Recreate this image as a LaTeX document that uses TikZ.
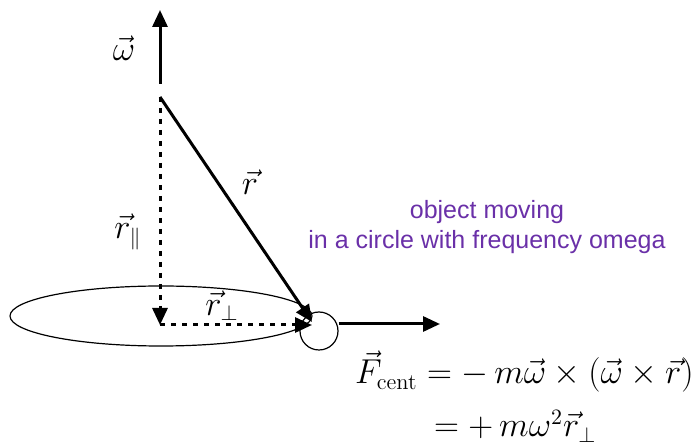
\documentclass[tikz,border=0pt]{standalone}
\usepackage{amsmath,amssymb}
\usepackage{fontspec}
\newfontfamily\labelfont{Liberation Sans}
\usetikzlibrary{arrows.meta}
\definecolor{notepurple}{RGB}{106,48,168}

\begin{document}
\begin{tikzpicture}[x=0.5pt,y=-0.5pt,
    vec/.style={line width=1.5pt,-{Triangle[length=8.5pt,width=7.5pt]}},
    dotvec/.style={vec,dash pattern=on 2.5pt off 3pt},
    mathlbl/.style={font=\fontsize{16}{19}\selectfont},
    note/.style={text=notepurple,align=center,font=\labelfont\fontsize{12.5}{15}\selectfont}]
        \useasboundingbox (0,0) rectangle (698,443);
        % axis and position vector
        \coordinate (wbase) at (160,84);
        \coordinate (wtip) at (160,10);
        \coordinate (pivot) at (160,97);
        \coordinate (centre) at (160,325);
        \coordinate (mass) at (312,322);
        \draw [vec] (wbase) -- (wtip);
        \node [mathlbl] (wlbl) at (124,48) {$\vec{\omega}$};
        \draw [vec] (pivot) -- (mass);
        \node [mathlbl] (rlbl) at (250,182) {$\vec{r}$};
        \draw [dotvec] (pivot) -- (centre);
        \node [mathlbl] (rpar) at (128,232) {$\vec{r}_{\|}$};
        % orbit and object
        \draw [line width=0.6pt] (161,316) ellipse [x radius=151,y radius=30];
        \node [draw,circle,line width=0.6pt,minimum size=19pt,inner sep=0pt] (obj) at (319,331) {};
        \draw [dotvec] (centre) -- (mass |- centre);
        \node [mathlbl] (rperp) at (222,306) {$\vec{r}_{\perp}$};
        \coordinate (ftip) at (440,324);
        \draw [vec] (obj.east |- ftip) -- (ftip);
        \node [note] (desc) at (487,227) {object moving\\in a circle with frequency omega};
        % force
        \node [mathlbl,anchor=base west] (feq1) at (348,384)
            {$\vec{F}_{\text{cent}} = -\,m\vec{\omega}\times(\vec{\omega}\times\vec{r})$};
        \node [mathlbl,anchor=base west] (feq2) at (427,437)
            {$= +\,m\omega^{2}\vec{r}_{\perp}$};
      \end{tikzpicture}
\end{document}
